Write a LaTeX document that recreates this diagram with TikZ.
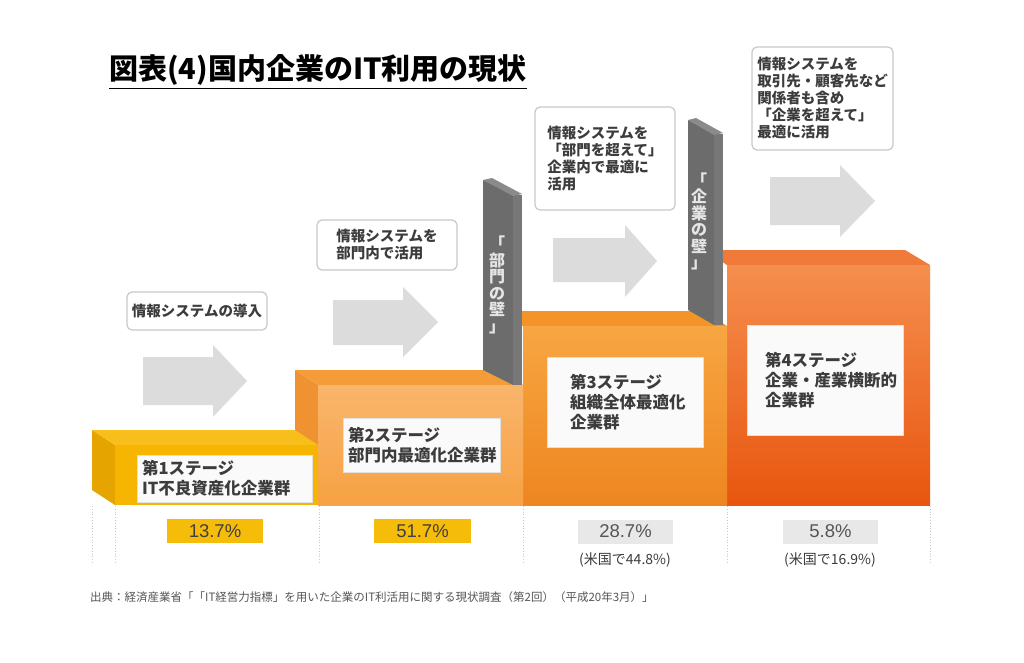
\documentclass[tikz,border=0pt]{standalone}
\usepackage{fontspec}
\setmainfont{Noto Sans CJK JP}
\newfontfamily\pctfont{Liberation Sans}
\definecolor{txt}{HTML}{3C3C3C}
\definecolor{txtlight}{HTML}{555555}
\definecolor{sonefront}{HTML}{F5B500}
\definecolor{sonetop}{HTML}{F7BE1C}
\definecolor{soneleft}{HTML}{E6A400}
\definecolor{stwoA}{HTML}{F9B56C}
\definecolor{stwoB}{HTML}{F7A243}
\definecolor{stwotop}{HTML}{F49C38}
\definecolor{stwoleft}{HTML}{EF9232}
\definecolor{sthreeA}{HTML}{F7A642}
\definecolor{sthreeB}{HTML}{EE8620}
\definecolor{sthreetop}{HTML}{F29428}
\definecolor{sfourA}{HTML}{F58E4E}
\definecolor{sfourB}{HTML}{E8560F}
\definecolor{sfourtop}{HTML}{F07A3A}
\definecolor{wallside}{HTML}{6C6C6C}
\definecolor{wallfront}{HTML}{777777}
\definecolor{walltop}{HTML}{8A8A8A}
\definecolor{arrowgray}{HTML}{DCDCDC}
\definecolor{boxline}{HTML}{C8C8C8}
\definecolor{pctgold}{HTML}{F6BC0A}
\definecolor{pctgray}{HTML}{E8E8E8}
\definecolor{dotgray}{HTML}{C8C8C8}
\tikzset{
  callout/.style={draw=boxline, line width=1.2pt, rounded corners=5pt, fill=white,
    align=left, inner xsep=4pt, inner ysep=3pt, text=txt,
    font=\fontsize{14.5}{17}\selectfont\bfseries, minimum width=140pt},
  stagebox/.style={draw=black!12, fill=black!2, inner sep=0pt},
  stagetext/.style={anchor=west, align=left, inner sep=0pt, text=txt,
    font=\fontsize{16.5}{20}\selectfont\bfseries},
  pctbox/.style={inner sep=0pt, minimum width=96pt, minimum height=24pt,
    font=\pctfont\fontsize{18.5}{20}\selectfont},
  walltext/.style={align=center, inner sep=0pt, text=black!10,
    font=\fontsize{16}{16.5}\selectfont\bfseries},
  bigarrow/.style={fill=arrowgray},
  dotline/.style={draw=dotgray, dotted, line width=0.8pt},
  note/.style={text=txt, font=\fontsize{14}{16}\selectfont}
}
\begin{document}
\begin{tikzpicture}[x=1pt,y=-1pt]
\useasboundingbox (0,0) rectangle (1024,663);
\fill[white] (0,0) rectangle (1024,663);

% title
\node[font=\fontsize{29}{32}\selectfont\bfseries, inner sep=0pt, text=black] (title) at (318,70) {図表(4)国内企業のIT利用の現状};
\draw[line width=1.6pt] ([yshift=-3pt]title.south west) -- ([yshift=-3pt]title.south east);

% arrows
\fill[bigarrow] (143,357) -- (213,357) -- (213,345) -- (247,381) -- (213,417) -- (213,405) -- (143,405) -- cycle;
\fill[bigarrow] (333,300) -- (403,300) -- (403,287) -- (438,322) -- (403,357) -- (403,345) -- (333,345) -- cycle;
\fill[bigarrow] (553,238) -- (625,238) -- (625,225) -- (657,261) -- (625,297) -- (625,282) -- (553,282) -- cycle;
\fill[bigarrow] (770,177) -- (840,177) -- (840,165) -- (875,201) -- (840,237) -- (840,225) -- (770,225) -- cycle;

% callouts
\node[callout, minimum height=38pt] (ca) at (197,311) {情報システムの導入};
\node[callout, minimum height=50pt] (cb) at (387,245) {情報システムを\\部門内で活用};
\node[callout, minimum height=103pt] (cc) at (605,158.5) {情報システムを\\「部門を超えて」\\企業内で最適に\\活用};
\node[callout, minimum height=103pt, minimum width=141pt] (cd) at (822.5,98.5) {情報システムを\\取引先・顧客先など\\関係者も含め\\「企業を超えて」\\最適に活用};

% stage 4
\fill[sfourtop] (704,250) -- (905,250) -- (930,265) -- (727,265) -- cycle;
\shade[top color=sfourA, bottom color=sfourB] (727,265) rectangle (930,505);
% stage 3
\fill[sthreetop] (500,311) -- (704,311) -- (727,326) -- (523,326) -- cycle;
\shade[top color=sthreeA, bottom color=sthreeB] (523,326) rectangle (727,505);
% stage 2
\fill[stwoleft] (295,370) -- (318,385) -- (318,505) -- (295,490) -- cycle;
\fill[stwotop] (295,370) -- (500,370) -- (523,385) -- (318,385) -- cycle;
\shade[top color=stwoA, bottom color=stwoB] (318,385) rectangle (523,505);
% stage 1
\fill[soneleft] (92,430) -- (115,445) -- (115,505) -- (92,490) -- cycle;
\fill[sonetop] (92,430) -- (295,430) -- (318,445) -- (115,445) -- cycle;
\fill[sonefront] (115,445) rectangle (318,505);

% walls
\fill[wallside] (483,180) -- (513,195) -- (513,385) -- (483,370) -- cycle;
\fill[wallfront] (513,195) rectangle (522,385);
\fill[walltop] (483,180) -- (492,178) -- (522,194) -- (513,196) -- cycle;
\node[walltext] (wone) at (497,285) {「\\部\\門\\の\\壁\\」};

\fill[wallside] (688,120) -- (714,134) -- (714,325) -- (688,310) -- cycle;
\fill[wallfront] (714,134) rectangle (723,325);
\fill[walltop] (688,120) -- (696,118) -- (723,133) -- (714,135) -- cycle;
\node[walltext] (wtwo) at (699,221.5) {「\\企\\業\\の\\壁\\」};

% stage labels
\node[stagebox, minimum width=175pt, minimum height=47pt] (sone) at (224.5,478.5) {};
\node[stagetext] (sonet) at ([xshift=5pt]sone.west) {第1ステージ\\IT不良資産化企業群};
\node[stagebox, minimum width=157pt, minimum height=54pt] (stwo) at (421.5,445) {};
\node[stagetext] (stwot) at ([xshift=5pt]stwo.west) {第2ステージ\\部門内最適化企業群};
\node[stagebox, minimum width=156pt, minimum height=90pt] (sthree) at (625,402) {};
\node[stagetext] (sthreet) at ([xshift=23pt]sthree.west) {第3ステージ\\組織全体最適化\\企業群};
\node[stagebox, minimum width=156pt, minimum height=110pt] (sfour) at (825,380) {};
\node[stagetext] (sfourt) at ([xshift=18pt]sfour.west) {第4ステージ\\企業・産業横断的\\企業群};

% dotted guides
\foreach \xx in {92,115,319,523,727,930} {
  \draw[dotline] (\xx,506) -- (\xx,563);
}

% percentages
\node[pctbox, fill=pctgold, text=black!75] (pone) at (215,531) {13.7\%};
\node[pctbox, fill=pctgold, text=black!75, minimum width=97pt] (ptwo) at (422.5,531) {51.7\%};
\node[pctbox, fill=pctgray, text=txtlight, minimum width=95pt] (pthree) at (625.5,531.5) {28.7\%};
\node[pctbox, fill=pctgray, text=txtlight, minimum width=95pt] (pfour) at (830.5,531.5) {5.8\%};
\node[note] (nthree) at (625,560) {(米国で44.8\%)};
\node[note] (nfour) at (830,560) {(米国で16.9\%)};

% source
\node[anchor=west, inner sep=0pt, text=txtlight, font=\fontsize{11.5}{13}\selectfont] (src) at (90,597) {出典：経済産業省「「IT経営力指標」を用いた企業のIT利活用に関する現状調査（第2回）（平成20年3月）」};
\end{tikzpicture}
\end{document}
